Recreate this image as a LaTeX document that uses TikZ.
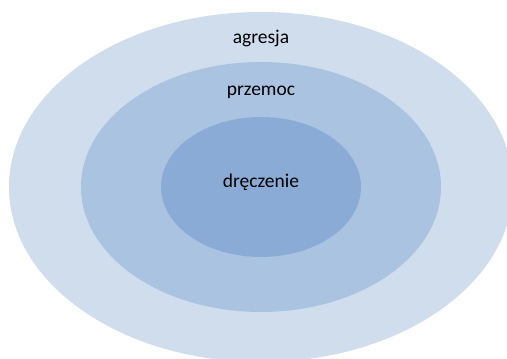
\documentclass[tikz,border=0pt]{standalone}
\usepackage{fontspec}
\setmainfont{Carlito}
\usetikzlibrary{shapes.geometric}
\definecolor{outerc}{RGB}{207,221,237}
\definecolor{midc}{RGB}{169,195,225}
\definecolor{innerc}{RGB}{138,171,214}
\tikzset{
  ring/.style={ellipse, draw=none, inner sep=0pt, outer sep=0pt},
  lbl/.style={font=\fontsize{19.5}{22}\selectfont, text=black, inner sep=0pt}
}
\begin{document}
\begin{tikzpicture}[x=1pt,y=1pt]
\useasboundingbox (0,0) rectangle (507,359);
\clip (0,0) rectangle (507,359);
\fill[white] (0,0) rectangle (507,359);
\node[ring, fill=outerc, minimum width=504, minimum height=350] (outer) at (261,172) {};
\node[ring, fill=midc, minimum width=360, minimum height=250] (mid) at (261,172) {};
\node[ring, fill=innerc, minimum width=200, minimum height=140] (inner) at (261,172) {};
\node[lbl] (t1) at (261,321) {agresja};
\node[lbl] (t2) at (261,267) {przemoc};
\node[lbl] (t3) at (261,177) {dręczenie};
\end{tikzpicture}
\end{document}
